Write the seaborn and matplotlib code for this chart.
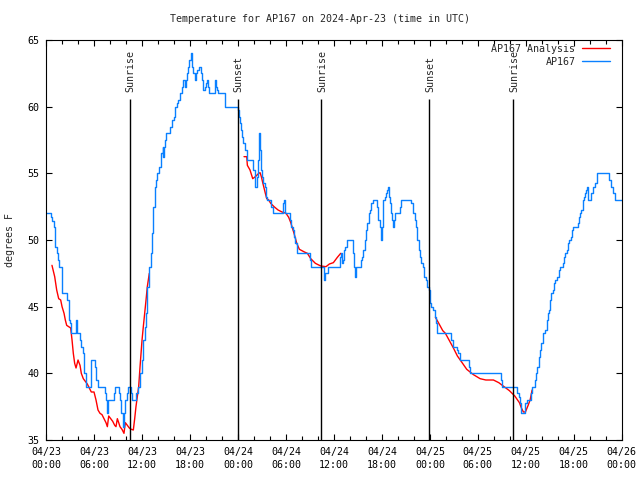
import matplotlib
matplotlib.use("Agg")
import matplotlib.pyplot as plt
from matplotlib.lines import Line2D
from matplotlib.ticker import MultipleLocator
import numpy as np
import pandas as pd
import seaborn as sns

# ---------------- data ----------------
title = "Temperature for AP167 on 2024-Apr-23 (time in UTC)"
ylabel = "degrees F"
obs_name = "AP167"
analysis_name = "AP167 Analysis"

# observed station temperatures (hours since 04/23 00:00 UTC, degF) - step data
obs_hours = [0.0, 0.55, 0.75, 0.95, 1.13, 1.3, 1.5, 1.6, 1.96, 2.55, 2.63, 2.8, 2.97, 3.13,
             3.72, 3.8, 4.22, 4.4, 4.55, 4.72, 4.97, 5.55, 5.63, 6.06, 6.22, 6.45, 7.31,
             7.45, 7.63, 7.7, 8.47, 8.55, 9.06, 9.22, 9.4, 9.6, 9.75, 9.9, 10.05, 10.2,
             10.56, 10.7, 11.06, 11.23, 11.48, 11.73, 11.98, 12.14, 12.3, 12.48, 12.64,
             12.89, 13.06, 13.23, 13.4, 13.56, 13.73, 13.9, 14.14, 14.4, 14.56, 14.64,
             14.7, 14.82, 14.98, 15.48, 15.73, 15.98, 16.15, 16.3, 16.48, 16.73, 16.98,
             17.15, 17.32, 17.48, 17.57, 17.73, 17.9, 18.07, 18.25, 18.4, 18.57, 18.75,
             18.9, 19.07, 19.4, 19.52, 19.65, 19.82, 19.95, 20.07, 20.2, 20.32, 21.07,
             21.24, 21.36, 21.49, 22.4, 23.9, 24.0, 24.12, 24.24, 24.37, 24.49, 24.66,
             24.91, 25.08, 25.16, 25.91, 26.08, 26.16, 26.33, 26.5, 26.58, 26.66, 26.75,
             26.83, 26.91, 27.0, 27.16, 27.33, 27.5, 27.66, 28.16, 28.33, 29.66, 29.75,
             29.91, 30.5, 30.66, 30.83, 31.0, 31.16, 31.33, 33.0, 33.17, 34.76, 34.9,
             35.26, 36.76, 36.84, 36.95, 37.1, 37.26, 37.4, 37.6, 38.42, 38.55, 38.67,
             38.8, 39.43, 39.55, 39.68, 39.85, 40.01, 40.18, 40.35, 40.52, 40.68, 40.85,
             41.43, 41.55, 41.7, 41.93, 42.0, 42.1, 42.18, 42.35, 42.52, 42.65, 42.77,
             42.93, 43.0, 43.1, 43.27, 43.43, 43.5, 43.68, 44.27, 44.43, 45.68, 45.85,
             46.1, 46.27, 46.43, 46.6, 46.77, 46.94, 47.1, 47.27, 47.45, 47.61, 47.86,
             47.95, 48.02, 48.2, 48.45, 48.61, 48.78, 48.94, 50.69, 50.86, 51.36, 51.53,
             51.78, 52.86, 53.03, 56.95, 57.03, 58.95, 59.12, 59.29, 59.45, 59.95, 60.12,
             60.63, 60.79, 61.2, 61.3, 61.45, 61.62, 61.79, 61.95, 62.12, 62.4, 62.63,
             62.75, 62.87, 63.04, 63.2, 63.45, 63.55, 63.71, 63.95, 64.1, 64.29, 64.71,
             64.8, 64.96, 65.13, 65.3, 65.46, 65.63, 65.8, 65.96, 66.55, 66.63, 66.8,
             66.96, 67.13, 67.3, 67.46, 67.55, 67.71, 67.8, 68.21, 68.38, 68.71, 68.88,
             68.96, 70.46, 70.63, 70.96, 71.21, 72.0]
obs_temps = [52.0, 51.75, 51.4, 51.0, 49.5, 49.0, 48.5, 48.0, 46.0, 45.75, 45.5, 44.0, 43.75, 43.0,
             44.0, 43.0, 42.5, 42.0, 41.5, 40.0, 39.0, 40.0, 41.0, 40.5, 39.5, 39.0, 38.5,
             38.0, 37.0, 38.0, 38.5, 39.0, 38.5, 38.0, 37.0, 36.0, 37.0, 38.0, 38.5, 39.0,
             38.5, 38.0, 38.0, 38.5, 39.0, 40.0, 41.0, 42.5, 43.5, 44.5, 46.5,
             48.0, 49.0, 50.5, 52.5, 54.0, 54.5, 55.0, 55.5, 56.5, 57.0, 56.25,
             57.0, 57.5, 58.0, 58.5, 59.0, 59.25, 60.0, 60.25, 60.5, 61.0, 61.5,
             62.0, 61.5, 62.0, 62.5, 63.0, 63.5, 64.0, 63.0, 62.5, 62.0, 62.5,
             62.75, 63.0, 62.5, 62.0, 61.25, 61.5, 61.75, 62.0, 61.5, 61.0, 62.0,
             61.5, 61.25, 61.0, 60.0, 60.0, 59.75, 59.25, 58.75, 58.25, 57.75, 57.25,
             56.75, 56.5, 56.0, 55.25, 54.5, 54.0, 54.75, 56.0, 57.0, 58.0, 56.75,
             56.0, 55.25, 54.75, 54.25, 54.0, 53.25, 53.0, 52.5, 52.0, 52.75, 53.0,
             52.0, 51.5, 51.0, 50.75, 50.25, 49.75, 49.0, 48.5, 48.0, 47.0, 47.5,
             48.0, 48.75, 49.0, 48.25, 48.5, 49.25, 49.5, 50.0, 49.0, 48.0, 47.25,
             48.0, 48.5, 48.75, 49.25, 50.0, 50.75, 51.25, 52.0, 52.25, 52.75, 53.0,
             52.5, 51.5, 51.0, 50.0, 51.0, 52.5, 53.0, 53.25, 53.5, 53.75, 54.0,
             53.25, 52.75, 52.0, 51.5, 51.0, 51.5, 52.0, 52.5, 53.0, 52.75, 52.0,
             51.5, 51.0, 50.0, 49.25, 48.75, 48.25, 48.0, 47.25, 47.0, 46.5, 46.25,
             45.75, 45.25, 45.0, 44.75, 44.25, 43.75, 43.0, 42.5, 42.0, 41.75, 41.5,
             41.0, 40.5, 40.0, 39.5, 39.0, 38.5, 38.25, 37.75, 37.0, 37.75, 38.0,
             38.5, 39.0, 39.5, 40.0, 40.5, 41.25, 41.75, 42.25, 43.0, 43.25, 44.0,
             44.5, 44.75, 45.5, 46.0, 46.25, 46.75, 47.0, 47.25, 47.75, 48.0, 48.25,
             48.75, 49.0, 49.25, 49.75, 50.0, 50.25, 50.75, 51.0, 51.25, 51.75, 52.0,
             52.25, 53.0, 53.25, 53.5, 53.75, 54.0, 53.0, 53.5, 54.0, 54.25, 54.75,
             55.0, 54.5, 54.0, 53.5, 53.0, 53.0]

# analysis temperatures, in three separate segments
analysis_hours = [0.71, 1.05, 1.3, 1.55, 1.8, 1.97, 2.22, 2.38, 2.55, 2.8, 3.05, 3.22, 3.38, 3.55,
                  3.72, 3.97, 4.22, 4.38, 4.63, 4.88, 5.13, 5.38, 5.63, 5.97, 6.22, 6.47, 6.72,
                  6.97, 7.22, 7.47, 7.64, 7.81, 8.06, 8.31, 8.56, 8.72, 8.89, 9.06, 9.22, 9.47,
                  9.72, 9.89, 10.14, 10.39, 10.64, 10.89, 11.06, 11.22, 11.39, 11.56, 11.73,
                  11.98, 12.14, 12.31, 12.48, 12.64, 12.89,
                  24.74, 25.08, 25.16, 25.49, 25.83, 26.16, 26.58, 26.75, 26.91, 27.08, 27.41,
                  27.58, 27.83, 28.08, 28.5, 29.0, 29.5, 30.0, 30.33, 30.59, 31.0, 31.34, 31.67,
                  32.3, 32.67, 33.09, 33.67, 34.34, 35.0, 35.42, 35.92, 36.42, 36.84,
                  48.69, 49.11, 49.61, 49.94, 50.44, 50.94, 51.44, 52.03, 52.61, 53.45, 54.28,
                  55.0, 55.95, 56.62, 57.28, 57.95, 58.62, 59.2, 59.45, 59.7, 59.95, 60.29,
                  60.54, 60.79]
analysis_temps = [48.1, 47.25, 46.25, 45.6, 45.5, 45.0, 44.5, 44.0, 43.6, 43.5, 43.4, 42.5, 41.5, 40.75,
                  40.4, 41.0, 40.6, 40.0, 39.6, 39.4, 39.2, 38.9, 38.6, 38.6, 38.0, 37.25, 37.0,
                  36.9, 36.6, 36.3, 36.0, 36.8, 36.6, 36.4, 36.1, 36.0, 36.6, 36.3, 36.0, 35.8,
                  35.5, 36.3, 36.1, 35.9, 35.8, 35.75, 36.6, 37.5, 38.25, 39.0, 40.5,
                  42.5, 43.5, 44.5, 45.5, 46.5, 47.5,
                  56.25, 56.25, 55.6, 55.25, 54.6, 54.75, 55.0, 55.05, 54.75, 54.3, 53.5,
                  53.1, 53.0, 52.75, 52.5, 52.25, 52.1, 52.0, 51.7, 51.3, 50.5, 49.75, 49.3,
                  49.1, 49.0, 48.6, 48.25, 48.05, 48.0, 48.2, 48.3, 48.7, 49.0,
                  44.2, 43.75, 43.2, 43.0, 42.45, 41.9, 41.3, 40.8, 40.3, 39.9, 39.6,
                  39.5, 39.5, 39.3, 39.0, 38.7, 38.3, 37.8, 37.4, 37.1, 37.1, 37.6,
                  38.0, 38.75]
analysis_segment = [1] * 57 + [2] * 33 + [3] * 24

sun_hours = [10.47, 23.99, 34.4, 47.92, 58.43]
sun_labels = ["Sunrise", "Sunset", "Sunrise", "Sunset", "Sunrise"]

xtick_hours = [0, 6, 12, 18, 24, 30, 36, 42, 48, 54, 60, 66, 72]
xtick_labels = ["04/23\n00:00", "04/23\n06:00", "04/23\n12:00", "04/23\n18:00",
                "04/24\n00:00", "04/24\n06:00", "04/24\n12:00", "04/24\n18:00",
                "04/25\n00:00", "04/25\n06:00", "04/25\n12:00", "04/25\n18:00",
                "04/26\n00:00"]
ytick_values = [35, 40, 45, 50, 55, 60, 65]

obs_df = pd.DataFrame({"hour": obs_hours, "temp": obs_temps})
an_df = pd.DataFrame({"hour": analysis_hours, "temp": analysis_temps, "seg": analysis_segment})

# ---------------- style ----------------
sns.set_style("ticks")
plt.rcParams["font.family"] = ["DejaVu Sans Mono", "DejaVu Sans"]
plt.rcParams["font.size"] = 7.2
plt.rcParams["axes.linewidth"] = 0.8

RED = "#ff0000"
BLUE = "#0a80ff"

fig = plt.figure(figsize=(6.4, 4.8), dpi=100)
fig.patch.set_facecolor("white")
ax = fig.add_axes([46.3 / 640, 40 / 480, 575.4 / 640, 400 / 480])

sns.lineplot(data=an_df, x="hour", y="temp", units="seg", estimator=None, sort=False,
             color=RED, lw=1.0, ax=ax, legend=False)
sns.lineplot(data=obs_df, x="hour", y="temp", estimator=None, sort=False,
             color=BLUE, lw=1.0, drawstyle="steps-post", ax=ax, legend=False)

# sunrise / sunset markers
ax.vlines(sun_hours, 35, 60.55, color="black", lw=1.0)
for h, lab in zip(sun_hours, sun_labels):
    ax.text(h + 0.1, 61.1, lab, rotation=90, ha="center", va="bottom", fontsize=7.2)

ax.set_xlim(0, 72)
ax.set_ylim(35, 65)
ax.set_xticks(xtick_hours)
ax.set_xticklabels(xtick_labels)
for t in ax.get_xticklabels():
    t.set_linespacing(1.4)
ax.xaxis.set_minor_locator(MultipleLocator(2))
ax.set_yticks(ytick_values)
ax.set_yticklabels([str(v) for v in ytick_values])
ax.tick_params(which="both", direction="in", top=True, right=True, colors="black",
               labelsize=7.2, width=0.8)
ax.tick_params(which="major", length=4, pad=4)
ax.tick_params(which="minor", length=3)
ax.tick_params(axis="x", pad=5)
ax.tick_params(axis="y", pad=5)

ax.set_xlabel("")
ax.set_ylabel(ylabel, fontsize=7.2)
ax.yaxis.set_label_coords(-0.055, 0.5)

for s in ax.spines.values():
    s.set_color("black")
    s.set_linewidth(0.8)

fig.text(0.5, 1 - 19 / 480, title, ha="center", va="center", fontsize=7.2)

handles = [Line2D([], [], color=RED, lw=1.0), Line2D([], [], color=BLUE, lw=1.0)]
ax.legend(handles, [analysis_name, obs_name], loc="upper right",
          bbox_to_anchor=(0.9805, 0.99), frameon=False, markerfirst=False,
          handlelength=2.8, handletextpad=0.7, borderpad=0, borderaxespad=0,
          labelspacing=0.3, fontsize=7.2)

fig.savefig("out.png", dpi=100)
